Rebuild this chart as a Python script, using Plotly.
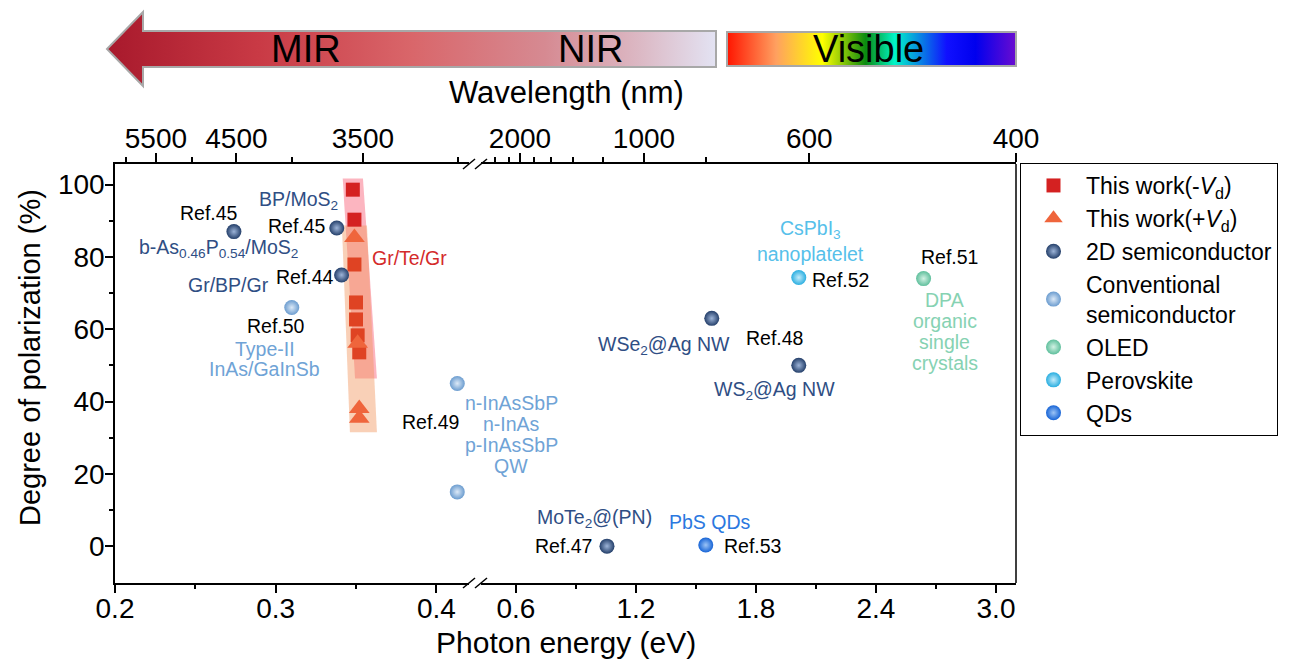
import base64
import plotly.graph_objects as go

# ------------------------- data -------------------------
neg_vd_energy = [0.348, 0.349, 0.349, 0.350, 0.350, 0.351, 0.352]
neg_vd_dop = [98.6, 90.3, 77.9, 67.4, 62.7, 58.3, 53.6]
pos_vd_energy = [0.349, 0.351, 0.352, 0.352]
pos_vd_dop = [85.4, 56.1, 38.1, 35.4]
semi2d_energy = [0.274, 0.338, 0.341, 1.055, 1.579, 2.014]
semi2d_dop = [87.0, 88.0, 75.0, 0.0, 63.0, 50.0]
conv_energy = [0.310, 0.413, 0.413]
conv_dop = [66.0, 45.0, 15.0]
oled_energy = [2.638]
oled_dop = [74.0]
perov_energy = [2.014]
perov_dop = [74.3]
qd_energy = [1.549]
qd_dop = [0.3]

series_names = ["This work(-<i>V</i><sub>d</sub>)", "This work(+<i>V</i><sub>d</sub>)",
                "2D semiconductor", "Conventional<br>semiconductor", "OLED", "Perovskite", "QDs"]

bottom_ticks_left = [0.2, 0.3, 0.4]
bottom_minor_left = [0.25, 0.35]
bottom_ticks_right = [0.6, 1.2, 1.8, 2.4, 3.0]
bottom_minor_right = [0.9, 1.5, 2.1, 2.7]
wl_major_left = [5500, 4500, 3500]
wl_minor_left = [6000, 5000, 4000, 3000]
wl_major_right = [2000, 1000, 600, 400]
wl_minor_right = [2500, 2200, 1800, 1600, 1400, 1200, 800]
y_ticks = [0, 20, 40, 60, 80, 100]
y_minor = [10, 30, 50, 70, 90]

# ------------------------- layout geometry -------------------------
PAGE_OFF = 8                      # default body margin of the html page
W, H = 1292 - PAGE_OFF, 659 - PAGE_OFF
ML, MT = 115 - PAGE_OFF, 164 - PAGE_OFF
MR, MB = 276, 76
PW, PH = W - ML - MR, H - MT - MB
LEFT_RANGE = [0.2, 0.4203]
RIGHT_RANGE = [0.4252, 3.1]
LEFT_DOM = [0.0, (469 - 115) / PW]
RIGHT_DOM = [(481 - 115) / PW, 1.0]
BREAK = 0.4225
Y_RANGE = [-10.2, 105.7]
HC = 1240.0  # eV*nm

def px(xp):   # window pixel -> paper x
    return (xp - 115) / PW

def py(yp):   # window pixel -> paper y
    return (583 - yp) / PH

FONT = "Arial, Liberation Sans, sans-serif"
NAVY = "#2f4e84"
LBLUE = "#6fa3d6"
RED = "#d42a2a"
SKY = "#56c0ea"
GREEN = "#86d2b2"
BLUE = "#2a78e0"

fig = go.Figure()

# ------------------------- highlight bands (derived from this-work data) -------------------------
def band(E, D, pad_top, pad_bot, hw_top, hw_bot, drift):
    top_i = D.index(max(D))
    bot_i = D.index(min(D))
    yt, yb = max(D) + pad_top, min(D) - pad_bot
    xt, xb = E[top_i], E[bot_i] + drift
    return (f"M {xt - hw_top},{yt} L {xt + hw_top},{yt} L {xb + hw_bot},{yb} "
            f"L {xb - hw_bot},{yb} Z")

fig.add_shape(type="path", xref="x", yref="y", layer="below",
              path=band(neg_vd_energy, neg_vd_dop, 3.1, 7.2, 0.0063, 0.0068, 0.0042),
              fillcolor="rgb(250,120,140)", opacity=0.55, line=dict(width=0))
fig.add_shape(type="path", xref="x", yref="y", layer="below",
              path=band(pos_vd_energy, pos_vd_dop, 3.3, 3.9, 0.0078, 0.0084, 0.0026),
              fillcolor="rgb(242,150,95)", opacity=0.45, line=dict(width=0))

# ------------------------- traces -------------------------
def add_series(name, E, D, marker, colors=None):
    first = True
    for axis, cond in (("x", lambda e: e < BREAK), ("x2", lambda e: e >= BREAK)):
        idx = [i for i, e in enumerate(E) if cond(e)]
        if not idx:
            continue
        m = dict(marker)
        if colors is not None:
            m["color"] = [colors[i] for i in idx]
        fig.add_trace(go.Scatter(
            x=[E[i] for i in idx], y=[D[i] for i in idx], xaxis=axis, yaxis="y",
            mode="markers", name=name, legendgroup=name, showlegend=first,
            marker=m, hoverinfo="x+y"))
        first = False

tri_band_top = max(pos_vd_dop) + 3.3
sq_colors = ["#df4323" if v <= tri_band_top else "#d42121" for v in neg_vd_dop]

add_series(series_names[0], neg_vd_energy, neg_vd_dop,
           dict(symbol="square", size=14, line=dict(width=0)), colors=sq_colors)
add_series(series_names[1], pos_vd_energy, pos_vd_dop,
           dict(symbol="triangle-up", size=18, color="#ef653c", line=dict(width=0)))

def sphere(base, hi):
    return dict(symbol="circle", size=15, color=base, line=dict(width=0),
                gradient=dict(type="radial", color=hi))

add_series(series_names[2], semi2d_energy, semi2d_dop, sphere("#243f6a", "#9db4d8"))
add_series(series_names[3], conv_energy, conv_dop, sphere("#6b9ccf", "#dce9f7"))
add_series(series_names[4], oled_energy, oled_dop, sphere("#5fbf9c", "#d2f2e4"))
add_series(series_names[5], perov_energy, perov_dop, sphere("#2aaee0", "#c4ecfb"))
add_series(series_names[6], qd_energy, qd_dop, sphere("#1764d6", "#9cc4f6"))

# empty carriers so that the wavelength (top) axes are drawn
for ax, rng in (("x3", LEFT_RANGE), ("x4", RIGHT_RANGE)):
    fig.add_trace(go.Scatter(x=[rng[0]], y=[None], xaxis=ax, yaxis="y", mode="markers",
                             showlegend=False, hoverinfo="skip"))

# ------------------------- point labels -------------------------
LABEL_SIZE = 19.5

def label(E, D, i, text, color, dx, dy, gap=21):
    e = E[i]
    lines = text.split("<br>")
    n = len(lines)
    for k, line in enumerate(lines):
        off = ((n - 1) / 2 - k) * gap
        fig.add_annotation(x=e, y=D[i], xref="x" if e < BREAK else "x2", yref="y",
                           text=line, showarrow=False, xshift=dx, yshift=dy + off,
                           xanchor="center", yanchor="middle",
                           font=dict(color=color, size=LABEL_SIZE, family=FONT))

label(semi2d_energy, semi2d_dop, 0, "Ref.45", "black", -25, 19)
label(semi2d_energy, semi2d_dop, 0, "b-As<sub>0.46</sub>P<sub>0.54</sub>/MoS<sub>2</sub>", NAVY, -15, -17)
label(semi2d_energy, semi2d_dop, 1, "Ref.45", "black", -40, 2)
label(semi2d_energy, semi2d_dop, 1, "BP/MoS<sub>2</sub>", NAVY, -38, 27)
label(semi2d_energy, semi2d_dop, 2, "Ref.44", "black", -37, -2)
label(semi2d_energy, semi2d_dop, 2, "Gr/BP/Gr", NAVY, -113, -10)
label(conv_energy, conv_dop, 0, "Ref.50", "black", -16, -18)
label(conv_energy, conv_dop, 0, "Type-II<br>InAs/GaInSb", LBLUE, -27, -51, gap=20)
label(conv_energy, conv_dop, 1, "Ref.49", "black", -27, -39)
label(conv_energy, conv_dop, 1, "n-InAsSbP<br>n-InAs<br>p-InAsSbP<br>QW", LBLUE, 54, -51)
label(pos_vd_energy, pos_vd_dop, 0, "Gr/Te/Gr", RED, 55, -21)
label(semi2d_energy, semi2d_dop, 3, "Ref.47", "black", -43, 0)
label(semi2d_energy, semi2d_dop, 3, "MoTe<sub>2</sub>@(PN)", NAVY, -12, 28)
label(qd_energy, qd_dop, 0, "Ref.53", "black", 47, -1)
label(qd_energy, qd_dop, 0, "PbS QDs", BLUE, 4, 23)
label(semi2d_energy, semi2d_dop, 4, "WSe<sub>2</sub>@Ag NW", NAVY, -48, -27)
label(semi2d_energy, semi2d_dop, 5, "Ref.48", "black", -24, 27)
label(semi2d_energy, semi2d_dop, 5, "WS<sub>2</sub>@Ag NW", NAVY, -24, -25)
label(perov_energy, perov_dop, 0, "Ref.52", "black", 42, -2)
label(perov_energy, perov_dop, 0, "CsPbI<sub>3</sub><br>nanoplatelet", SKY, 12, 36, gap=24)
label(oled_energy, oled_dop, 0, "Ref.51", "black", 26, 22)
label(oled_energy, oled_dop, 0, "DPA<br>organic<br>single<br>crystals", GREEN, 21, -53)

# ------------------------- axes -------------------------
TICK_SIZE = 28
AX = dict(showline=True, linecolor="black", linewidth=1.5, showgrid=False, zeroline=False,
          ticks="outside", tickcolor="black", tickwidth=1.5, mirror=False,
          tickfont=dict(size=TICK_SIZE, family=FONT, color="black"))

def fmt(v):
    return f"{v:.1f}"

def minor(vals, ln):
    return dict(tickmode="array", tickvals=vals, ticks="outside", ticklen=ln,
                tickwidth=1.5, tickcolor="black", showgrid=False)

fig.update_layout(
    xaxis=dict(**AX, domain=LEFT_DOM, range=LEFT_RANGE, anchor="y", ticklen=8, ticklabelstandoff=-8,
               tickmode="array", tickvals=bottom_ticks_left, ticktext=[fmt(v) for v in bottom_ticks_left],
               minor=minor(bottom_minor_left, 4)),
    xaxis2=dict(**AX, domain=RIGHT_DOM, range=RIGHT_RANGE, anchor="y", ticklen=8, ticklabelstandoff=-8,
                tickmode="array", tickvals=bottom_ticks_right, ticktext=[fmt(v) for v in bottom_ticks_right],
                minor=minor(bottom_minor_right, 4)),
    xaxis3=dict(**AX, overlaying="x", side="top", anchor="y", range=LEFT_RANGE, ticklen=9,
                ticklabelstandoff=-6, tickmode="array", tickvals=[HC / w for w in wl_major_left],
                ticktext=[str(w) for w in wl_major_left],
                minor=minor([HC / w for w in wl_minor_left], 5)),
    xaxis4=dict(**AX, overlaying="x2", side="top", anchor="y", range=RIGHT_RANGE, ticklen=9,
                ticklabelstandoff=-6, tickmode="array", tickvals=[HC / w for w in wl_major_right],
                ticktext=[str(w) for w in wl_major_right],
                minor=minor([HC / w for w in wl_minor_right], 5)),
    yaxis=dict(**AX, domain=[0, 1], range=Y_RANGE, anchor="x", ticklen=8, ticklabelstandoff=-5,
               tickmode="array", tickvals=y_ticks, minor=minor(y_minor, 4)),
)

# right frame line and axis-break marks
fig.add_shape(type="line", xref="paper", yref="paper", x0=1, x1=1, y0=0, y1=1,
              line=dict(color="black", width=1.5))
sdx, sdy = 6 / PW, 5 / PH
for xc in (LEFT_DOM[1], RIGHT_DOM[0]):
    for yc in (0, 1):
        fig.add_shape(type="line", xref="paper", yref="paper",
                      x0=xc - sdx, x1=xc + sdx, y0=yc - sdy, y1=yc + sdy,
                      line=dict(color="black", width=1.5))

# axis titles
def paper_text(text, xp, yp, size, angle=0):
    fig.add_annotation(xref="paper", yref="paper", x=px(xp), y=py(yp), text=text,
                       xanchor="center", yanchor="middle", textangle=angle, showarrow=False,
                       font=dict(size=size, family=FONT, color="black"))

paper_text("Photon energy (eV)", 566, 642, 30)
paper_text("Wavelength (nm)", 566, 93, 31)
paper_text("Degree of polarization (%)", 30, 358, 29, angle=-90)

# spectral banner (decorative gradient bars) + real text
svg = """<svg xmlns="http://www.w3.org/2000/svg" width="920" height="84" viewBox="0 0 920 84">
<defs>
<linearGradient id="ir" x1="0" y1="0" x2="1" y2="0">
<stop offset="0" stop-color="#a8192c"/>
<stop offset="0.25" stop-color="#c93a45"/>
<stop offset="0.5" stop-color="#d9666a"/>
<stop offset="0.72" stop-color="#d68a92"/>
<stop offset="0.88" stop-color="#dcbac6"/>
<stop offset="1" stop-color="#e3e3f3"/>
</linearGradient>
<linearGradient id="vis" x1="0" y1="0" x2="1" y2="0">
<stop offset="0" stop-color="#ff1500"/>
<stop offset="0.17" stop-color="#ffa060"/>
<stop offset="0.33" stop-color="#ffff00"/>
<stop offset="0.48" stop-color="#0a8a10"/>
<stop offset="0.58" stop-color="#00f5c8"/>
<stop offset="0.76" stop-color="#1010ff"/>
<stop offset="0.86" stop-color="#0000ee"/>
<stop offset="1" stop-color="#6a0cd0"/>
</linearGradient>
</defs>
<polygon points="7,41 43,4 43,23 616,23 616,59 43,59 43,78" fill="url(#ir)" stroke="#a8a8a8" stroke-width="2"/>
<rect x="627" y="24" width="289" height="34" fill="url(#vis)" stroke="#a8a8a8" stroke-width="2"/>
</svg>"""
src = "data:image/svg+xml;base64," + base64.b64encode(svg.encode()).decode()
fig.add_layout_image(source=src, xref="paper", yref="paper", x=px(100), y=py(8),
                     sizex=920 / PW, sizey=84 / PH, xanchor="left", yanchor="top",
                     sizing="stretch", layer="below")
for txt, xc in (("MIR", 306), ("NIR", 590), ("Visible", 868)):
    paper_text(txt, xc, 49, 38)

fig.update_layout(
    width=W, height=H, margin=dict(l=ML, r=MR, t=MT, b=MB, autoexpand=False),
    paper_bgcolor="white", plot_bgcolor="white",
    font=dict(family=FONT, color="black"),
    legend=dict(x=px(1020), y=py(163), xanchor="left", yanchor="top",
                bordercolor="black", borderwidth=1, bgcolor="white",
                font=dict(size=23, family=FONT, color="black"),
                traceorder="normal", tracegroupgap=0, itemwidth=55),
    showlegend=True,
)

fig.write_html("out.html")
